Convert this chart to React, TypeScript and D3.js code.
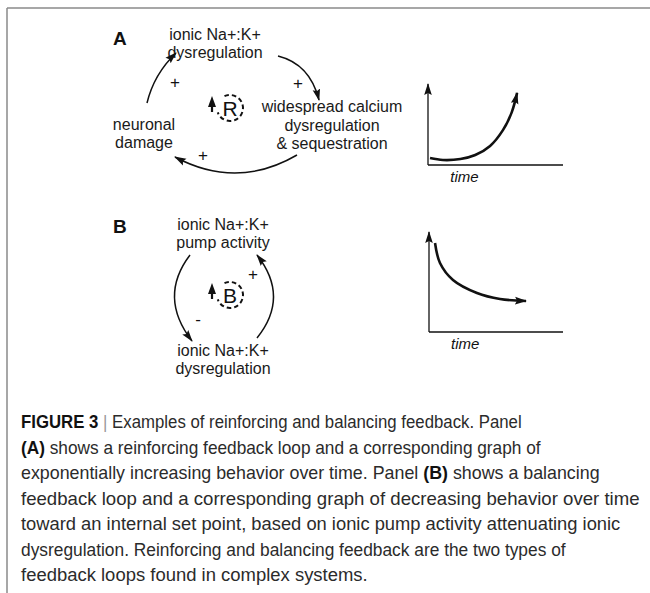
import * as d3 from "d3";
import { useEffect, useRef } from "react";

// behaviour-over-time curves (0..10 units)
const growthTime = [0.15, 1.1, 2.4, 3.5, 4.6, 5.55, 6.2, 6.6];
const growthValue = [0.86, 0.62, 0.74, 1.23, 2.35, 4.3, 6.5, 8.9];
const decayTime = [0.45, 0.82, 1.79, 3.58, 5.3, 7.24];
const decayValue = [8.9, 6.9, 5.2, 3.9, 3.3, 3.1];

const loopALabels = [
  ["ionic Na+:K+", "dysregulation"],
  ["widespread calcium", "dysregulation", "& sequestration"],
  ["neuronal", "damage"],
];
const loopBLabels = [
  ["ionic Na+:K+", "pump activity"],
  ["ionic Na+:K+", "dysregulation"],
];

const captionLines: { t: string; b?: boolean; g?: boolean }[][] = [
  [{ t: "FIGURE 3", b: true }, { t: " " }, { t: "|", g: true }, { t: " Examples of reinforcing and balancing feedback. Panel" }],
  [{ t: "(A)", b: true }, { t: " shows a reinforcing feedback loop and a corresponding graph of" }],
  [{ t: "exponentially increasing behavior over time. Panel " }, { t: "(B)", b: true }, { t: " shows a balancing" }],
  [{ t: "feedback loop and a corresponding graph of decreasing behavior over time" }],
  [{ t: "toward an internal set point, based on ionic pump activity attenuating ionic" }],
  [{ t: "dysregulation. Reinforcing and balancing feedback are the two types of" }],
  [{ t: "feedback loops found in complex systems." }],
];
// right edge of each caption line in the reference
const captionEnds = [522, 541, 600, 640, 621, 566, 368];

const FONT = "'Liberation Sans', Arial, sans-serif";

const App: React.FC = () => {
  const ref = useRef<SVGSVGElement | null>(null);

  useEffect(() => {
    if (!ref.current) return;
    const svg = d3.select(ref.current);
    svg.selectAll("*").remove();

    const defs = svg.append("defs");
    defs
      .append("marker")
      .attr("id", "head")
      .attr("viewBox", "0 0 12 10")
      .attr("refX", 11)
      .attr("refY", 5)
      .attr("markerWidth", 12)
      .attr("markerHeight", 10)
      .attr("markerUnits", "userSpaceOnUse")
      .attr("orient", "auto")
      .append("path")
      .attr("d", "M0,1.2 L12,5 L0,8.8 L2,5 Z")
      .attr("fill", "#111");

    // frame
    svg.append("line").attr("x1", 7).attr("x2", 650).attr("y1", 8).attr("y2", 8)
      .attr("stroke", "#8a8a8a").attr("stroke-width", 1.5);
    svg.append("line").attr("x1", 7).attr("x2", 7).attr("y1", 8).attr("y2", 593)
      .attr("stroke", "#8a8a8a").attr("stroke-width", 1.5);

    const label = (lines: string[], cx: number, y0: number, dy: number) => {
      const t = svg.append("text").attr("font-family", FONT).attr("font-size", 16)
        .attr("fill", "#1a1a1a").attr("text-anchor", "middle");
      lines.forEach((s, i) => t.append("tspan").attr("x", cx).attr("y", y0 + i * dy).text(s));
    };
    const panelLetter = (s: string, x: number, y: number) =>
      svg.append("text").attr("x", x).attr("y", y).attr("font-family", FONT)
        .attr("font-size", 19).attr("font-weight", "bold").attr("fill", "#111").text(s);
    const sign = (s: string, x: number, y: number) =>
      svg.append("text").attr("x", x).attr("y", y).attr("font-family", FONT)
        .attr("font-size", 17).attr("text-anchor", "middle").attr("fill", "#111").text(s);
    const arrow = (p0: [number, number], c: [number, number], p1: [number, number]) => {
      const p = d3.path();
      p.moveTo(p0[0], p0[1]);
      p.quadraticCurveTo(c[0], c[1], p1[0], p1[1]);
      svg.append("path").attr("d", p.toString()).attr("fill", "none")
        .attr("stroke", "#111").attr("stroke-width", 1.5).attr("marker-end", "url(#head)");
    };
    const loopSymbol = (letter: string, cx: number, cy: number) => {
      const r = 13;
      const p = d3.path();
      p.arc(cx, cy, r, (-115 * Math.PI) / 180, (160 * Math.PI) / 180);
      svg.append("path").attr("d", p.toString()).attr("fill", "none")
        .attr("stroke", "#111").attr("stroke-width", 2).attr("stroke-dasharray", "4.5,3");
      const ax = cx - r - 5;
      svg.append("line").attr("x1", ax).attr("x2", ax).attr("y1", cy + 4).attr("y2", cy - 4)
        .attr("stroke", "#111").attr("stroke-width", 2.2);
      svg.append("path")
        .attr("d", `M${ax - 4},${cy - 1} L${ax},${cy - 12} L${ax + 4},${cy - 1} Z`)
        .attr("fill", "#111");
      svg.append("text").attr("x", cx).attr("y", cy + 7.5).attr("font-family", FONT)
        .attr("font-size", 21).attr("text-anchor", "middle").attr("fill", "#111").text(letter);
    };

    // ---- panel A loop
    panelLetter("A", 113, 45);
    label(loopALabels[0], 215, 40, 17.5);
    label(loopALabels[1], 332, 112, 18.5);
    label(loopALabels[2], 144, 130, 17.5);
    arrow([278, 56], [310, 64], [319, 100]);
    sign("+", 298, 89);
    arrow([297, 155], [237, 190], [175, 157]);
    sign("+", 203, 161);
    arrow([147, 103], [154, 74], [176, 53]);
    sign("+", 175, 88);
    loopSymbol("R", 230, 108);

    // ---- panel B loop
    panelLetter("B", 113, 233);
    label(loopBLabels[0], 223, 230, 17.5);
    label(loopBLabels[1], 223, 356, 17.5);
    arrow([190, 255], [158, 297], [192, 341]);
    sign("-", 198, 325);
    arrow([257, 338], [290, 297], [257, 255]);
    sign("+", 253, 280);
    loopSymbol("B", 230, 295);

    // ---- small graphs
    const graph = (
      xr: [number, number], yr: [number, number],
      xs: number[], ys: number[], timeY: number
    ) => {
      const x = d3.scaleLinear().domain([0, 10]).range(xr);
      const y = d3.scaleLinear().domain([0, 10]).range(yr);
      svg.append("line").attr("x1", x(0)).attr("x2", x(10)).attr("y1", y(0)).attr("y2", y(0))
        .attr("stroke", "#111").attr("stroke-width", 1.5);
      svg.append("line").attr("x1", x(0)).attr("x2", x(0)).attr("y1", y(0)).attr("y2", y(10))
        .attr("stroke", "#111").attr("stroke-width", 1.3).attr("marker-end", "url(#head)");
      const pts = xs.map((v, i) => [v, ys[i]] as [number, number]);
      const line = d3.line<[number, number]>()
        .x((d) => x(d[0]))
        .y((d) => y(d[1]))
        .curve(d3.curveCatmullRom);
      svg.append("path").datum(pts).attr("d", line).attr("fill", "none")
        .attr("stroke", "#111").attr("stroke-width", 2.6).attr("marker-end", "url(#head)");
      svg.append("text").attr("x", x(2.7)).attr("y", timeY).attr("font-family", FONT)
        .attr("font-size", 15).attr("font-style", "italic").attr("text-anchor", "middle")
        .attr("fill", "#111").text("time");
    };
    graph([428, 563], [165, 84], growthTime, growthValue, 182);
    graph([429, 563], [332, 232], decayTime, decayValue, 349);

    // ---- caption: each line squeezed horizontally to the reference width
    captionLines.forEach((parts, i) => {
      const t = svg.append("text").attr("x", 0).attr("y", 0)
        .attr("font-family", FONT).attr("font-size", 18.5).attr("fill", "#2b2b2b");
      parts.forEach((p) => {
        const s = t.append("tspan").text(p.t);
        if (p.b) s.attr("font-weight", "bold").attr("fill", "#111");
        if (p.g) s.attr("fill", "#999").attr("font-weight", "300");
      });
      const w = (t.node() as SVGTextElement).getComputedTextLength() || 1;
      const k = Math.min(1.05, (captionEnds[i] - 21) / w);
      t.attr("transform", `translate(21,${428 + i * 25.5}) scale(${k},1)`);
    });
  }, []);

  return (
    <svg
      ref={ref}
      width={650}
      height={593}
      style={{ position: "absolute", left: 0, top: 0, background: "#fff" }}
    />
  );
};

export default App;
